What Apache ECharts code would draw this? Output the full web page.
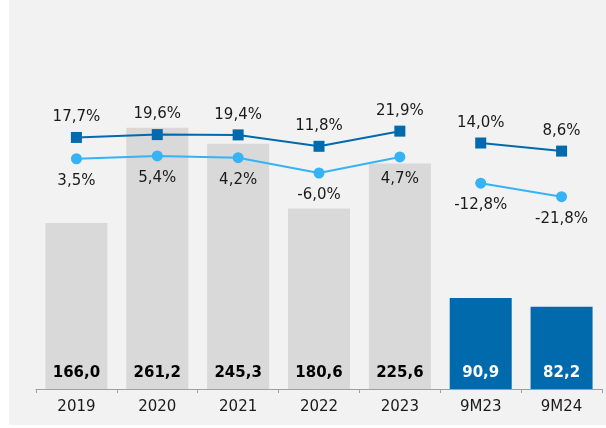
<!DOCTYPE html>
<html>
<head>
<meta charset="utf-8">
<script src="https://cdn.jsdelivr.net/npm/echarts@6/dist/echarts.min.js"></script>
<style>
html, body { margin: 0; padding: 0; background: #ffffff; }
#main { width: 606px; height: 428px; }
</style>
</head>
<body>
<div id="main"></div>
<script>
var categories = ['2019', '2020', '2021', '2022', '2023', '9M23', '9M24'];
var revenue = [166.0, 261.2, 245.3, 180.6, 225.6, 90.9, 82.2];
var marginDark = [17.7, 19.6, 19.4, 11.8, 21.9, 14.0, 8.6];
var marginLight = [3.5, 5.4, 4.2, -6.0, 4.7, -12.8, -21.8];
var lastAnnual = 4;   // index of 2023, lines break after it

var chart = echarts.init(document.getElementById('main'));

var font = 'DejaVu Sans';
var darkBlue = '#006aad';
var lightBlue = '#35b3f5';

function pct(v) {
	return v.toFixed(1).replace('.', ',') + '%';
}
// split a line into annual part and 9M part
function part(arr, annual) {
	return arr.map(function (v, i) {
		return (annual ? i <= lastAnnual : i > lastAnnual) ? v : '-';
	});
}

function lineSeries(arr, annual, color, symbol, pos, dist) {
	return {
		type: 'line',
		yAxisIndex: 1,
		data: part(arr, annual),
		symbol: symbol,
		symbolSize: 11,
		lineStyle: { color: color, width: 2 },
		itemStyle: { color: color },
		label: {
			show: true,
			position: pos,
			distance: dist,
			fontFamily: font,
			fontSize: 15,
			color: '#1a1a1a',
			formatter: function (p) { return pct(p.value); }
		},
		z: 5
	};
}

var option = {
	animation: false,
	graphic: [{
		type: 'rect',
		left: 9, top: 0,
		shape: { width: 597, height: 425 },
		style: { fill: '#f2f2f2' },
		z: -10
	}],
	grid: { left: 36, right: 4, top: 89, bottom: 39 },
	xAxis: {
		type: 'category',
		data: categories,
		axisLine: { lineStyle: { color: '#a0a0a0', width: 1 } },
		axisTick: { show: true, length: 4, lineStyle: { color: '#a0a0a0' } },
		axisLabel: { fontFamily: font, fontSize: 15, color: '#1a1a1a', margin: 11 }
	},
	yAxis: [
		{ type: 'value', min: 0, max: 300, show: false, splitLine: { show: false } },
		{ type: 'value', min: -150, max: 50, show: false, splitLine: { show: false } }
	],
	series: [
		{
			type: 'bar',
			// white labels on the blue bars
			data: revenue.map(function (v, i) {
				return i > lastAnnual ? { value: v, label: { color: '#ffffff' } } : v;
			}),
			barWidth: 62,
			itemStyle: {
				color: function (p) { return p.dataIndex > lastAnnual ? darkBlue : '#d9d9d9'; }
			},
			label: {
				show: true,
				position: 'insideBottom',
				distance: 8,
				fontFamily: font,
				fontSize: 15,
				fontWeight: 'bold',
				color: '#000',
				formatter: function (p) { return p.value.toFixed(1).replace('.', ','); }
			},
			z: 1
		},
		lineSeries(marginDark, true, darkBlue, 'rect', 'top', 7),
		lineSeries(marginDark, false, darkBlue, 'rect', 'top', 7),
		lineSeries(marginLight, true, lightBlue, 'circle', 'bottom', 9),
		lineSeries(marginLight, false, lightBlue, 'circle', 'bottom', 9)
	]
};

chart.setOption(option);
</script>
</body>
</html>
